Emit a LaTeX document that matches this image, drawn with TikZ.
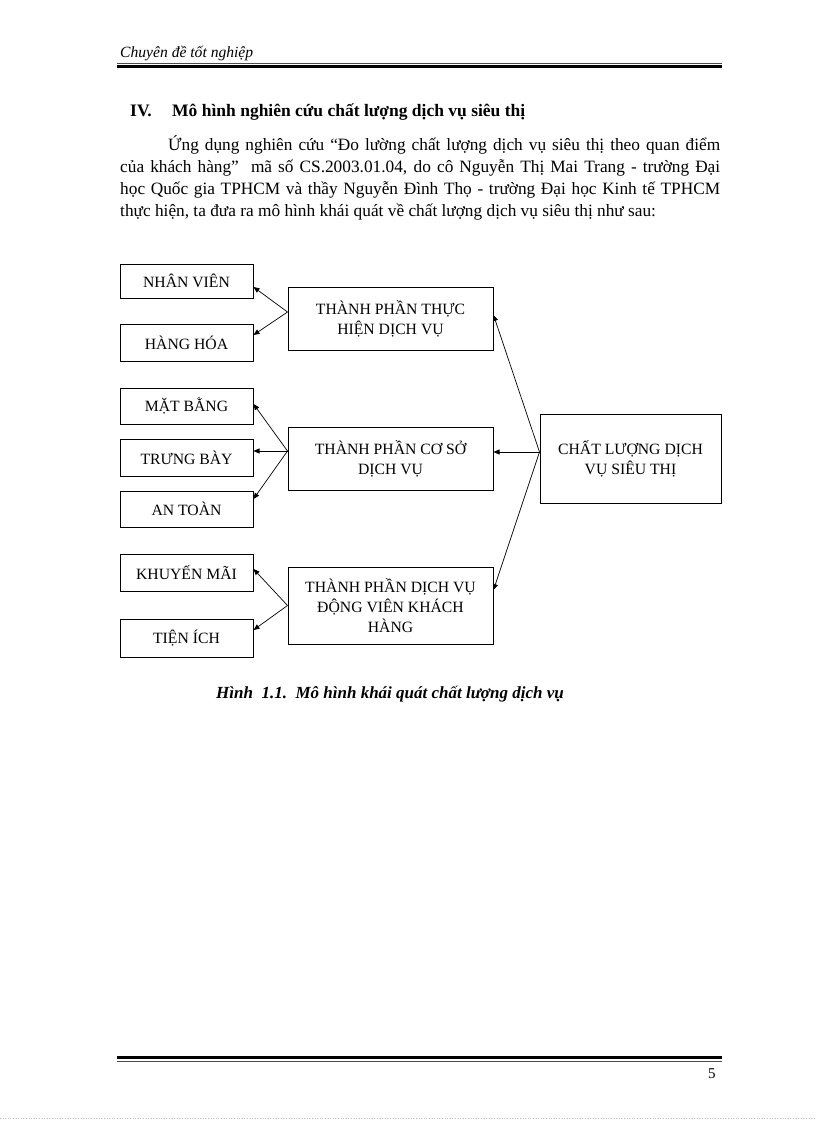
\documentclass[tikz,border=0pt]{standalone}
\usepackage{fontspec}
\setmainfont{Liberation Serif}
\usetikzlibrary{arrows.meta,calc}
\begin{document}
\begin{tikzpicture}[x=1pt,y=-1pt,
  box/.style={draw=black, line width=1pt, rectangle, inner sep=0pt, align=center,
    font=\fontsize{15.7}{20}\selectfont},
  small/.style={box, minimum width=133pt},
  big/.style={box, minimum width=205pt, minimum height=63pt},
  arr/.style={-{Triangle[length=6pt,width=5pt]}, line width=0.7pt},
  body/.style={anchor=base west, inner sep=0pt, font=\fontsize{17.3}{22}\selectfont},
]
\useasboundingbox (0,0) rectangle (816,1123);
\fill[white] (0,0) rectangle (816,1123);

% header
\node[body, font=\fontsize{15.6}{18}\selectfont\itshape] (hdr) at (120,58) {Chuyên đề tốt nghiệp};
\draw[line width=0.8pt, black!70] (117,63) -- (722,63);
\draw[line width=2.4pt] (117,66.5) -- (722,66.5);

% heading
\node[body, font=\fontsize{17.5}{22}\selectfont\bfseries] (iv) at (130,117) {IV.};
\node[body, font=\fontsize{17.5}{22}\selectfont\bfseries] (ttl) at (172,117) {Mô hình nghiên cứu chất lượng dịch vụ siêu thị};

% paragraph
\node[body] (p1) at (168,151) {\makebox[552pt][s]{Ứng dụng nghiên cứu “Đo lường chất lượng dịch vụ siêu thị theo quan điểm}};
\node[body] (p2) at (120,173) {\makebox[600pt][s]{của khách hàng”\ \ mã số CS.2003.01.04, do cô Nguyễn Thị Mai Trang - trường Đại}};
\node[body] (p3) at (120,195) {\makebox[600pt][s]{học Quốc gia TPHCM và thầy Nguyễn Đình Thọ - trường Đại học Kinh tế TPHCM}};
\node[body] (p4) at (120,217) {thực hiện, ta đưa ra mô hình khái quát về chất lượng dịch vụ siêu thị như sau:};

% boxes
\node[small, minimum height=34pt] (nv) at (186.5,281) {NHÂN VIÊN};
\node[small, minimum height=37pt] (hh) at (186.5,342.5) {HÀNG HÓA};
\node[small, minimum height=36pt] (mb) at (186.5,406) {MẶT BẰNG};
\node[small, minimum height=37pt] (tb) at (186.5,457.5) {TRƯNG BÀY};
\node[small, minimum height=36pt] (at) at (186.5,509) {AN TOÀN};
\node[small, minimum height=37pt] (km) at (186.5,572.5) {KHUYẾN MÃI};
\node[small, minimum height=38pt] (ti) at (186.5,638) {TIỆN ÍCH};

\node[big] (tpth) at (390.5,318.5) {THÀNH PHẦN THỰC\\HIỆN DỊCH VỤ};
\node[big] (tpcs) at (390.5,458.5) {THÀNH PHẦN CƠ SỞ\\DỊCH VỤ};
\node[big, minimum height=77pt] (tpdv) at (390.5,605.5) {THÀNH PHẦN DỊCH VỤ\\ĐỘNG VIÊN KHÁCH\\HÀNG};
\node[box, minimum width=181pt, minimum height=89pt] (cl) at (630.5,458.5) {CHẤT LƯỢNG DỊCH\\VỤ SIÊU THỊ};

% connectors
\draw[arr] ($(tpth.west)+(0,-6.5)$) -- ($(nv.east)+(0,6)$);
\draw[arr] ($(tpth.west)+(0,-6.5)$) -- ($(hh.east)+(0,-7.5)$);
\draw[arr] ($(tpcs.west)+(0,-7.5)$) -- ($(mb.east)+(0,-2)$);
\draw[arr] ($(tpcs.west)+(0,-7.5)$) -- ($(tb.east)+(0,-6.5)$);
\draw[arr] ($(tpcs.west)+(0,-7.5)$) -- ($(at.east)+(0,-10)$);
\draw[arr] (tpdv.west) -- ($(km.east)+(0,-3.5)$);
\draw[arr] (tpdv.west) -- ($(ti.east)+(0,-8)$);
\draw[arr] ($(cl.west)+(0,-6.5)$) -- ($(tpth.east)+(0,-3.5)$);
\draw[arr] ($(cl.west)+(0,-6.5)$) -- ($(tpcs.east)+(0,-6.5)$);
\draw[arr] ($(cl.west)+(0,-6.5)$) -- ($(tpdv.east)+(0,-15.5)$);

% caption
\node[body, font=\fontsize{17}{22}\selectfont\bfseries\itshape] (cap) at (216,698) {Hình\ \ 1.1.\ \ Mô hình khái quát chất lượng dịch vụ};

% footer
\draw[line width=2.4pt] (117,1057.5) -- (722,1057.5);
\draw[line width=0.8pt, black!70] (117,1061) -- (722,1061);
\node[body, font=\fontsize{15}{18}\selectfont] (pg) at (708,1078) {5};
\draw[black!25, dotted, line width=0.6pt] (0,1118) -- (816,1118);
\end{tikzpicture}
\end{document}
